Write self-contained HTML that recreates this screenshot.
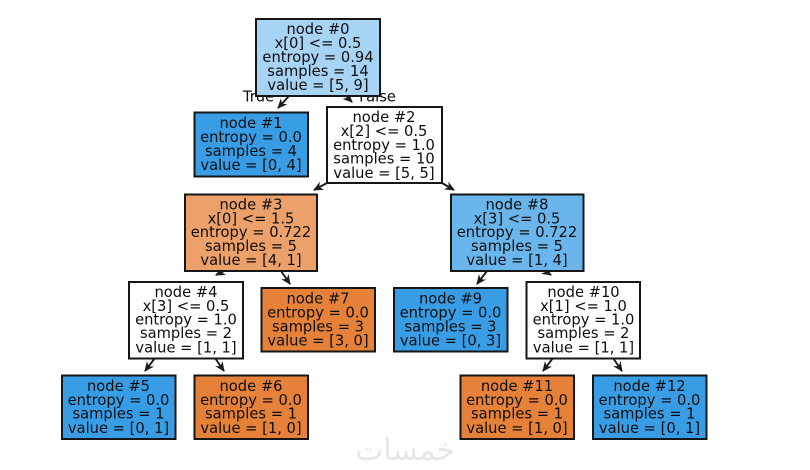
<!DOCTYPE html>
<html><head><meta charset="utf-8"><style>
html,body{margin:0;padding:0;background:#fff;width:810px;height:470px;overflow:hidden}
svg{display:block}
text{font-family:"DejaVu Sans",sans-serif;font-size:14.7px;fill:#101010;text-anchor:middle}
rect{stroke:#151515;stroke-width:2}
.a{stroke:#1a1a1a;stroke-width:1.9;fill:none}
.h{fill:#1a1a1a;stroke:none}
</style></head><body>
<svg width="810" height="470" viewBox="0 0 810 470" xmlns="http://www.w3.org/2000/svg">
<defs>
<marker id="m" markerWidth="12" markerHeight="12" refX="9" refY="5" orient="auto" markerUnits="userSpaceOnUse"><path class="h" d="M0,0.5 L10,5 L0,9.5 L3,5 Z"/></marker>
<filter id="b" filterUnits="userSpaceOnUse" x="0" y="0" width="810" height="470"><feGaussianBlur stdDeviation="0.35"/></filter>
</defs>
<g filter="url(#b)">
<text x="258.500" y="101.500">True</text>
<text x="377.500" y="101.500">False</text>

<g class="edges">
<path class="a" d="M289,96 L278,108" marker-end="url(#m)"/>
<path class="a" d="M344,94 L352,102" marker-end="url(#m)"/>
<path class="a" d="M327,183 L314,190" marker-end="url(#m)"/>
<path class="a" d="M442,183 L454,190" marker-end="url(#m)"/>
<path class="a" d="M224,271 L216,275" marker-end="url(#m)"/>
<path class="a" d="M281,271 L290,284" marker-end="url(#m)"/>
<path class="a" d="M155,358 L145,371" marker-end="url(#m)"/>
<path class="a" d="M215,358 L224,371" marker-end="url(#m)"/>
<path class="a" d="M487,271 L477,284" marker-end="url(#m)"/>
<path class="a" d="M545,271 L551,275" marker-end="url(#m)"/>
<path class="a" d="M553,358 L543,371" marker-end="url(#m)"/>
<path class="a" d="M613,358 L622,371" marker-end="url(#m)"/>
</g>

<rect x="256" y="19" width="124" height="77" fill="#a7d3f5"/>
<text x="318" y="34">node #0</text><text x="318" y="48">x[0] &lt;= 0.5</text><text x="318" y="62">entropy = 0.94</text><text x="318" y="76">samples = 14</text><text x="318" y="90">value = [5, 9]</text>

<rect x="194.500" y="112.500" width="113.500" height="64" fill="#399de5"/>
<text x="251" y="128">node #1</text><text x="251" y="142">entropy = 0.0</text><text x="251" y="156">samples = 4</text><text x="251" y="170">value = [0, 4]</text>

<rect x="327" y="107" width="115" height="76" fill="#ffffff"/>
<text x="384" y="122">node #2</text><text x="384" y="136">x[2] &lt;= 0.5</text><text x="384" y="150">entropy = 1.0</text><text x="384" y="163.500">samples = 10</text><text x="384" y="178">value = [5, 5]</text>

<rect x="185" y="194.500" width="132" height="76.500" fill="#eca06a"/>
<text x="251" y="209.500">node #3</text><text x="251" y="223.500">x[0] &lt;= 1.5</text><text x="251" y="237">entropy = 0.722</text><text x="251" y="251">samples = 5</text><text x="251" y="265">value = [4, 1]</text>

<rect x="451" y="194.500" width="132.500" height="76.500" fill="#6ab6ec"/>
<text x="517" y="209.500">node #8</text><text x="517" y="223.500">x[3] &lt;= 0.5</text><text x="517" y="237">entropy = 0.722</text><text x="517" y="251">samples = 5</text><text x="517" y="265">value = [1, 4]</text>

<rect x="129" y="282" width="114" height="76.500" fill="#ffffff"/>
<text x="186" y="297">node #4</text><text x="186" y="311">x[3] &lt;= 0.5</text><text x="186" y="324.500">entropy = 1.0</text><text x="186" y="338">samples = 2</text><text x="186" y="352.500">value = [1, 1]</text>

<rect x="261.500" y="288" width="113.500" height="63.500" fill="#e58139"/>
<text x="318" y="303.500">node #7</text><text x="318" y="317.500">entropy = 0.0</text><text x="318" y="331.500">samples = 3</text><text x="318" y="345.500">value = [3, 0]</text>

<rect x="394" y="288" width="113.500" height="63.500" fill="#399de5"/>
<text x="450.500" y="303.500">node #9</text><text x="450.500" y="317.500">entropy = 0.0</text><text x="450.500" y="331.500">samples = 3</text><text x="450.500" y="345.500">value = [0, 3]</text>

<rect x="526.500" y="282" width="113.500" height="76.500" fill="#ffffff"/>
<text x="583.500" y="297">node #10</text><text x="583.500" y="311">x[1] &lt;= 1.0</text><text x="583.500" y="324.500">entropy = 1.0</text><text x="583.500" y="338">samples = 2</text><text x="583.500" y="352.500">value = [1, 1]</text>

<rect x="62" y="375.500" width="113.500" height="63.500" fill="#399de5"/>
<text x="118.500" y="391">node #5</text><text x="118.500" y="405">entropy = 0.0</text><text x="118.500" y="418.500">samples = 1</text><text x="118.500" y="433">value = [0, 1]</text>

<rect x="194.500" y="375.500" width="113.500" height="63.500" fill="#e58139"/>
<text x="251" y="391">node #6</text><text x="251" y="405">entropy = 0.0</text><text x="251" y="418.500">samples = 1</text><text x="251" y="433">value = [1, 0]</text>

<rect x="460.500" y="375.500" width="113.500" height="63.500" fill="#e58139"/>
<text x="517" y="391">node #11</text><text x="517" y="405">entropy = 0.0</text><text x="517" y="418.500">samples = 1</text><text x="517" y="433">value = [1, 0]</text>

<rect x="593" y="375.500" width="113.500" height="63.500" fill="#399de5"/>
<text x="649.500" y="391">node #12</text><text x="649.500" y="405">entropy = 0.0</text><text x="649.500" y="418.500">samples = 1</text><text x="649.500" y="433">value = [0, 1]</text>

<text x="405" y="460" style="font-size:30px;fill:#e6e6e6">خمسات</text>
</g>
</svg>
</body></html>
